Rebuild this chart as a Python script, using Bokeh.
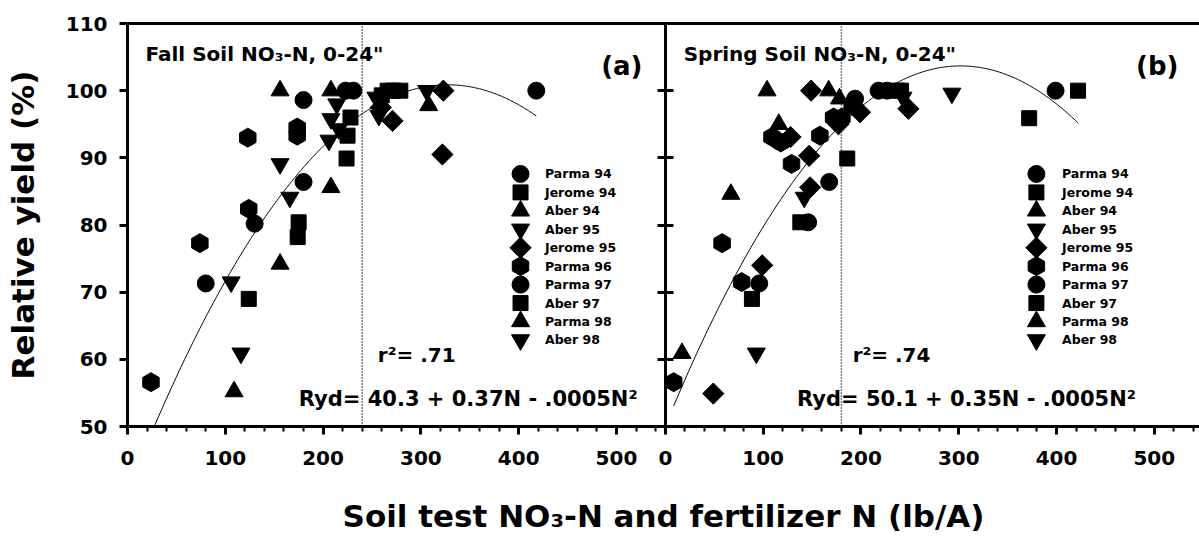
import numpy as np
from bokeh.plotting import figure
from bokeh.models import Range1d, LinearAxis, FixedTicker, Span, Label
from bokeh.core.properties import value
from bokeh.embed import file_html
from bokeh.resources import INLINE

# ---------------- data ----------------
SITES = ["Parma 94", "Jerome 94", "Aber 94", "Aber 95", "Jerome 95",
         "Parma 96", "Parma 97", "Aber 97", "Parma 98", "Aber 98"]

# (a) Fall soil NO3-N + fertilizer N (lb/A) vs relative yield (%)
fall_site = ["Parma 94", "Parma 94", "Parma 94", "Parma 94",
             "Parma 97", "Parma 97", "Parma 97",
             "Jerome 94", "Jerome 94", "Jerome 94", "Jerome 94",
             "Aber 97", "Aber 97", "Aber 97", "Aber 97", "Aber 97", "Aber 97",
             "Aber 94", "Aber 94", "Aber 94", "Aber 94",
             "Parma 98", "Parma 98",
             "Aber 95", "Aber 95", "Aber 95", "Aber 95", "Aber 95",
             "Aber 98", "Aber 98", "Aber 98", "Aber 98", "Aber 98", "Aber 98",
             "Jerome 95", "Jerome 95", "Jerome 95", "Jerome 95",
             "Parma 96", "Parma 96", "Parma 96", "Parma 96", "Parma 96", "Parma 96"]
fall_n = [80, 180, 231, 418,
          130, 180, 223,
          174, 224, 266, 279,
          124, 175, 225, 228, 260, 272,
          109, 156, 208, 308,
          156, 208,
          116, 166, 214, 254, 306,
          106, 156, 206, 208, 216, 257,
          259, 271, 322, 323,
          24, 74, 124, 123, 173.5, 173.5]
fall_ry = [71.3, 86.4, 100, 100,
           80.2, 98.6, 100,
           78.2, 89.9, 100, 100,
           69.0, 80.4, 93.3, 96.0, 99.3, 100,
           55.2, 74.2, 85.6, 97.8,
           100, 100,
           60.9, 84.1, 98.0, 99.0, 100,
           71.5, 89.1, 92.6, 95.8, 94.3, 96.3,
           97.5, 95.5, 90.5, 100,
           56.6, 77.3, 82.4, 93.0, 94.5, 93.3]

# (b) Spring soil NO3-N + fertilizer N (lb/A) vs relative yield (%)
spring_site = ["Parma 94", "Parma 94", "Parma 94", "Parma 94",
               "Parma 97", "Parma 97", "Parma 97",
               "Jerome 94", "Jerome 94", "Jerome 94", "Jerome 94",
               "Aber 97", "Aber 97", "Aber 97",
               "Aber 94", "Aber 94", "Aber 94", "Aber 94",
               "Parma 98", "Parma 98",
               "Aber 95", "Aber 95", "Aber 95",
               "Aber 98",
               "Jerome 95", "Jerome 95", "Jerome 95", "Jerome 95", "Jerome 95",
               "Jerome 95", "Jerome 95", "Jerome 95", "Jerome 95",
               "Parma 96", "Parma 96", "Parma 96", "Parma 96", "Parma 96",
               "Parma 96", "Parma 96", "Parma 96", "Parma 96", "Parma 96"]
spring_n = [96, 167.5, 226.5, 399,
            146, 194, 218,
            138, 186, 237, 422,
            88.5, 241, 372,
            17, 67, 116, 178,
            104, 167,
            93, 142, 243,
            293,
            49, 99, 128, 147, 148, 149, 177, 199, 248.5,
            8.5, 58, 78, 109, 118, 129, 158, 172, 180.5, 191]
spring_ry = [71.3, 86.4, 100, 100,
             80.4, 98.8, 100,
             80.4, 89.9, 100, 100,
             69.0, 100, 95.9,
             60.9, 84.6, 95.0, 98.8,
             100, 100,
             60.9, 84.1, 99.0,
             99.6,
             54.9, 74.0, 93.1, 90.3, 85.6, 100, 95.0, 96.8, 97.3,
             56.6, 77.3, 71.5, 93.1, 92.3, 89.1, 93.3, 96.0, 96.0, 98.0]

# fitted quadratic response curves  Ryd = b0 + b1*N + b2*N^2
fall_coef = [40.3, 0.37, -0.000565]
spring_coef = [50.1, 0.355, -0.000588]
fall_critical = 240
spring_critical = 180

X_TICKS = [0, 100, 200, 300, 400, 500]
X_MINOR = [20, 40, 60, 80, 120, 140, 160, 180, 220, 240, 260, 280, 320, 340,
           360, 380, 420, 440, 460, 480, 520, 540]
Y_TICKS = [50, 60, 70, 80, 90, 100, 110]

# ---------------- style / layout ----------------
FONT = "DejaVu Sans"
PANEL = 550                       # x-span of one panel (lb/A)
W, H = 1199, 541
BL, BR, BT, BB = 127, 0, 23, 115
PX_PER_UNIT = 0.97794
X_END = (W - BL - BR) / PX_PER_UNIT

MARK = {
    "Parma 94": ("circle", 17, 0.0),
    "Parma 97": ("circle", 17, 0.0),
    "Jerome 94": ("square", 15, 0.0),
    "Aber 97": ("square", 15, 0.0),
    "Aber 94": ("triangle", 18, 0.0),
    "Parma 98": ("triangle", 18, 0.0),
    "Aber 95": ("inverted_triangle", 18, 0.0),
    "Aber 98": ("inverted_triangle", 18, 0.0),
    "Jerome 95": ("square", 15, np.pi / 4),
    "Parma 96": ("hex", 19, np.pi / 2),
}
# legend layout (data units of each panel)
LEG_TOP, LEG_STEP = 87.6, 2.746

p = figure(width=W, height=H, x_range=Range1d(0, X_END), y_range=Range1d(50, 110),
           output_backend="svg", toolbar_location=None,
           x_axis_type=None, y_axis_type=None,
           min_border_left=BL, min_border_right=BR,
           min_border_top=BT, min_border_bottom=BB,
           outline_line_color=None, background_fill_color="white",
           border_fill_color="white")
p.extra_x_ranges = {"spring": Range1d(-PANEL, X_END - PANEL)}

# bottom axis shared by both panels
major = X_TICKS + [PANEL + t for t in X_TICKS]
minor = X_MINOR + [PANEL + t for t in X_MINOR if PANEL + t < X_END]
overrides = {PANEL + t: str(t) for t in X_TICKS}
xaxis = LinearAxis(ticker=FixedTicker(ticks=major, minor_ticks=minor),
                   major_label_overrides=overrides,
                   axis_label="Soil test NO\u2083-N and fertilizer N (lb/A)",
                   axis_line_width=3, major_tick_line_width=3, minor_tick_line_width=2,
                   major_tick_out=8, major_tick_in=0, minor_tick_out=5, minor_tick_in=0,
                   major_label_text_font=FONT, major_label_text_font_style="bold",
                   major_label_text_font_size="20px", major_label_standoff=16,
                   major_label_text_color="black",
                   axis_label_text_font=FONT, axis_label_text_font_style="bold",
                   axis_label_text_font_size="31px", axis_label_standoff=30,
                   axis_label_text_color="black")
p.add_layout(xaxis, "below")

yaxis = LinearAxis(ticker=FixedTicker(ticks=Y_TICKS),
                   axis_label="Relative yield (%)",
                   axis_line_width=3, major_tick_line_width=3,
                   major_tick_out=8, major_tick_in=0, minor_tick_out=0, minor_tick_in=0,
                   major_label_text_font=FONT, major_label_text_font_style="bold",
                   major_label_text_font_size="20px", major_label_standoff=12,
                   major_label_text_color="black",
                   axis_label_text_font=FONT, axis_label_text_font_style="bold",
                   axis_label_text_font_size="31px", axis_label_standoff=22,
                   axis_label_text_color="black")
p.add_layout(yaxis, "left")

# divider axis between the panels (spring panel's y axis, unlabeled)
mid = LinearAxis(fixed_location=PANEL, ticker=FixedTicker(ticks=Y_TICKS),
                 major_label_overrides={t: "" for t in Y_TICKS},
                 axis_line_width=3, major_tick_line_width=3,
                 major_tick_out=8, major_tick_in=8, minor_tick_out=0, minor_tick_in=0)
p.add_layout(mid, "left")

# top frame line
top = LinearAxis(ticker=FixedTicker(ticks=[]), axis_line_width=3,
                 major_tick_out=0, major_tick_in=0, minor_tick_out=0, minor_tick_in=0,
                 major_label_standoff=0)
p.add_layout(top, "above")

# critical levels
p.add_layout(Span(location=fall_critical, dimension="height", line_color="black",
                  line_width=1.5, line_dash="1 2"))
p.add_layout(Span(location=spring_critical, dimension="height", line_color="black",
                  line_width=1.5, line_dash="1 2", x_range_name="spring"))


def draw_panel(site, n, ry, coef, rng, leg_marker_x, leg_text_x):
    c = np.linspace(min(n), max(n), 300)
    p.line(c, coef[0] + coef[1] * c + coef[2] * c ** 2, line_color="black",
           line_width=1, x_range_name=rng)
    for k, s in enumerate(SITES):
        xs = [n[i] for i in range(len(n)) if site[i] == s]
        ys = [ry[i] for i in range(len(n)) if site[i] == s]
        mk, sz, ang = MARK[s]
        p.scatter(xs, ys, marker=mk, size=sz, angle=ang, color="black",
                  x_range_name=rng)
        # legend entry
        ly = LEG_TOP - LEG_STEP * k
        p.scatter([leg_marker_x], [ly], marker=mk, size=sz, angle=ang,
                  color="black", x_range_name=rng)
        p.text([leg_text_x], [ly], text=[s], x_range_name=rng,
               text_font=value(FONT), text_font_style="bold",
               text_font_size=value("12.5px"), text_baseline="middle",
               text_color="black")


draw_panel(fall_site, fall_n, fall_ry, fall_coef, "default", 401.9, 426.9)
draw_panel(spring_site, spring_n, spring_ry, spring_coef, "spring", 379.4, 405.6)


def txt(x, y, text, size, rng="default", align="left"):
    p.add_layout(Label(x=x, y=y, text=text, x_range_name=rng, text_font=FONT,
                       text_font_style="bold", text_font_size=size, text_align=align,
                       text_baseline="alphabetic", text_color="black"))


txt(18.4, 105.4, "Fall Soil NO\u2083-N, 0-24\"", "20px")
txt(526.6, 103.6, "(a)", "26px", align="right")
txt(256, 60.65, "r\u00b2= .71", "20px")
txt(175.2, 54.12, "Ryd= 40.3 + 0.37N - .0005N\u00b2", "21px")

txt(18.7, 105.4, "Spring Soil NO\u2083-N, 0-24\"", "20px", rng="spring")
txt(524.6, 103.6, "(b)", "26px", rng="spring", align="right")
txt(191.5, 60.65, "r\u00b2= .74", "20px", rng="spring")
txt(134.7, 54.12, "Ryd= 50.1 + 0.35N - .0005N\u00b2", "21px", rng="spring")

open("out.html", "w").write(file_html(p, INLINE))
